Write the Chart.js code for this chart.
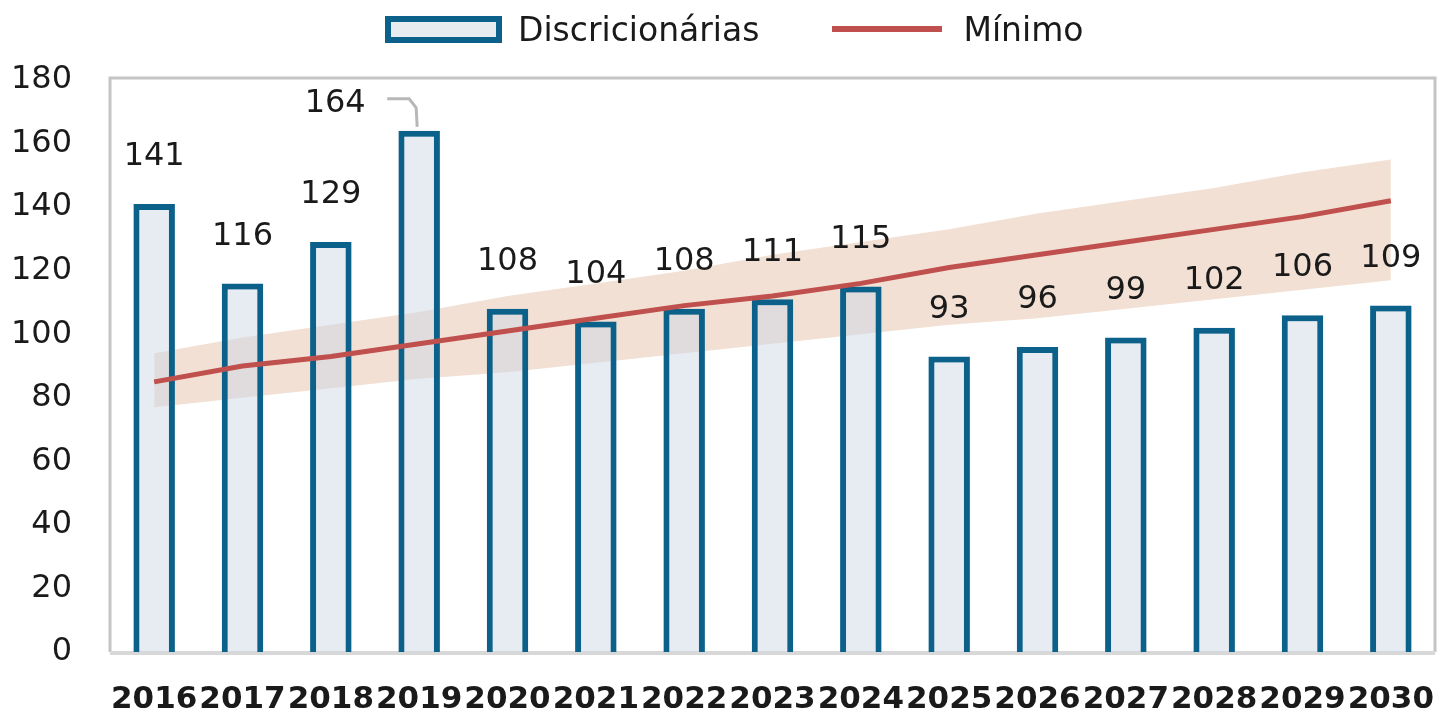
<!DOCTYPE html>
<html>
<head>
<meta charset="utf-8">
<script src="https://cdn.jsdelivr.net/npm/chart.js@4"></script>
<style>
  html, body { margin: 0; padding: 0; background: #fff; }
  #wrap { position: relative; width: 1441px; height: 717px; }
  #legend {
    position: absolute; top: 11px; left: 385px; height: 36px;
    display: flex; align-items: center;
    font-family: "DejaVu Sans", sans-serif; font-size: 33px; color: #1a1a1a;
  }
  .lg-box {
    width: 105px; height: 15px; border: 6px solid #0b6189;
    background: #e8ecf1; margin-right: 16px;
  }
  .lg-line { width: 110px; height: 6px; background: #c0504d; margin: 0 21px 0 73px; }
  #chart { position: absolute; left: 0; top: 0; }
</style>
</head>
<body>
<div id="wrap">
  <canvas id="chart" width="1441" height="717"></canvas>
  <div id="legend">
    <div class="lg-box"></div><span>Discricionárias</span>
    <div class="lg-line"></div><span>Mínimo</span>
  </div>
</div>
<script>
// ====== DADOS ======
const anos = ["2016", "2017", "2018", "2019", "2020", "2021", "2022", "2023",
  "2024", "2025", "2026", "2027", "2028", "2029", "2030"];
const discricionarias = [141, 116, 129, 164, 108, 104, 108, 111, 115, 93, 96, 99, 102, 106, 109];
const minimo = [85, 90, 93, 97, 101, 105, 109, 112, 116, 121, 125, 129, 133, 137, 142];
const faixaSup = [94, 99, 103, 107, 112, 116, 120, 125, 129, 133, 138, 142, 146, 151, 155];
const faixaInf = [77, 80, 83, 86, 88, 91, 94, 97, 100, 103, 105, 108, 111, 114, 117];
const yTicks = [0, 20, 40, 60, 80, 100, 120, 140, 160, 180];

const FONT = "DejaVu Sans";

// moldura cinza em volta da area do grafico
const framePlugin = {
  id: "frame",
  beforeDatasetsDraw(chart) {
    const a = chart.chartArea;
    const ctx = chart.ctx;
    ctx.save();
    ctx.strokeStyle = "#c4c4c4";
    ctx.lineWidth = 3;
    ctx.beginPath();
    ctx.moveTo(a.left, a.bottom);
    ctx.lineTo(a.left, a.top - 2);
    ctx.lineTo(a.right, a.top - 2);
    ctx.lineTo(a.right, a.bottom);
    ctx.stroke();
    ctx.strokeStyle = "#d8d8d8";
    ctx.lineWidth = 4;
    ctx.beginPath();
    ctx.moveTo(a.left, a.bottom + 1);
    ctx.lineTo(a.right, a.bottom + 1);
    ctx.stroke();
    ctx.restore();
  },
};

// rotulos de valor acima das barras
const labelPlugin = {
  id: "valueLabels",
  afterDatasetsDraw(chart) {
    const ctx = chart.ctx;
    const meta = chart.getDatasetMeta(3);
    ctx.save();
    ctx.font = "32px " + FONT;
    ctx.fillStyle = "#1a1a1a";
    ctx.textAlign = "center";
    ctx.textBaseline = "middle";
    meta.data.forEach((bar, i) => {
      const v = discricionarias[i];
      if (i === 3) {
        // 2019: rotulo deslocado com linha guia
        const lx = bar.x - 84, ly = bar.y - 27;
        ctx.fillText(String(v), lx, ly);
        ctx.strokeStyle = "#b8b8b8";
        ctx.lineWidth = 3;
        ctx.beginPath();
        ctx.moveTo(lx + 52, ly - 5);
        ctx.lineTo(lx + 74, ly - 5);
        ctx.lineTo(bar.x - 3, ly + 4);
        ctx.lineTo(bar.x - 2, bar.y - 4);
        ctx.stroke();
      } else {
        ctx.fillText(String(v), bar.x, bar.y - 47);
      }
    });
    ctx.restore();
  },
};

new Chart(document.getElementById("chart"), {
  data: {
    labels: anos,
    datasets: [
      {
        type: "line",
        label: "faixaInf",
        data: faixaInf,
        borderWidth: 0,
        pointRadius: 0,
        fill: false,
        order: 3,
      },
      {
        type: "line",
        label: "faixaSup",
        data: faixaSup,
        borderWidth: 0,
        pointRadius: 0,
        backgroundColor: "rgba(226,190,162,0.48)",
        fill: "-1",
        order: 3,
      },
      {
        type: "line",
        label: "Mínimo",
        data: minimo,
        borderColor: "#c0504d",
        borderWidth: 5,
        pointRadius: 0,
        fill: false,
        order: 0,
      },
      {
        type: "bar",
        label: "Discricionárias",
        data: discricionarias,
        backgroundColor: "rgba(208,218,232,0.5)",
        borderColor: "#0b6189",
        borderWidth: 6,
        borderSkipped: "bottom",
        barPercentage: 0.47,
        categoryPercentage: 1,
        order: 1,
      },
    ],
  },
  options: {
    responsive: false,
    animation: false,
    layout: { padding: { left: 0, right: 6, top: 80, bottom: 0 } },
    plugins: {
      legend: { display: false },
      tooltip: { enabled: false },
    },
    scales: {
      x: {
        offset: true,
        afterFit(axis) {
          axis.height = 65;
          axis.paddingLeft = 0;
          axis.paddingRight = 0;
        },
        grid: { display: false, drawTicks: false },
        border: { display: false },
        ticks: {
          color: "#1a1a1a",
          font: { family: FONT, size: 31, weight: "bold" },
          padding: 29,
          maxRotation: 0,
          autoSkip: false,
        },
      },
      y: {
        min: 0,
        max: 180,
        afterBuildTicks(axis) {
          axis.ticks = yTicks.map((v) => ({ value: v }));
        },
        afterFit(axis) { axis.width = 110; },
        grid: { display: false, drawTicks: false },
        border: { display: false },
        ticks: {
          color: "#1a1a1a",
          font: { family: FONT, size: 32 },
          padding: 38,
        },
      },
    },
  },
  plugins: [framePlugin, labelPlugin],
});
</script>
</body>
</html>
